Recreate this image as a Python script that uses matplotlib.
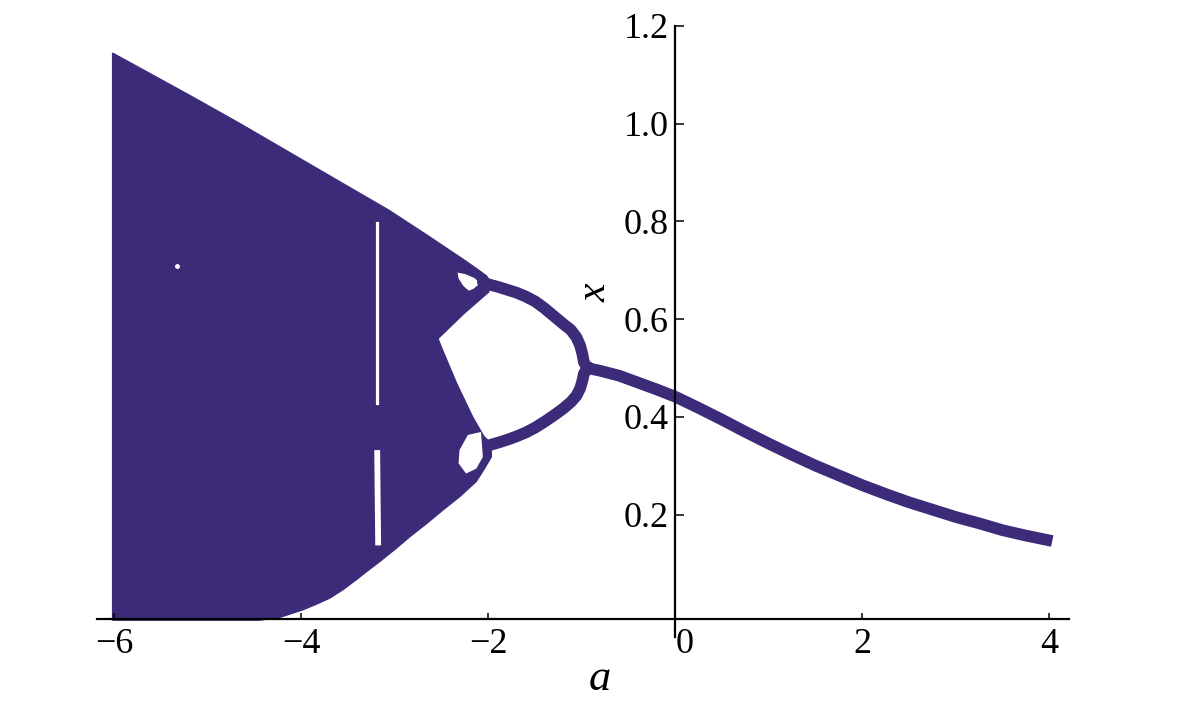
import matplotlib
matplotlib.use('Agg')
from matplotlib import pyplot as plt

purple = '#3c2b79'

# chaotic band, outer boundary (a, x)
upper_env_a = [-6.02, -5.60, -5.20, -4.66, -4.13, -3.60, -3.06, -2.66, -2.27, -2.12, -2.02]
upper_env_x = [1.144, 1.100, 1.058, 1.000, 0.941, 0.882, 0.822, 0.772, 0.722, 0.702, 0.688]
inner_a = [-1.97, -2.00, -2.27, -2.54, -2.49, -2.34, -2.17, -2.05, -1.97]
inner_x = [0.672, 0.655, 0.610, 0.560, 0.536, 0.468, 0.400, 0.360, 0.345]
lower_env_a = [-1.97, -2.05, -2.13, -2.30, -2.49, -2.66, -2.84, -3.00, -3.17, -3.30, -3.42,
               -3.56, -3.70, -3.85, -3.99, -4.23, -4.45, -6.02]
lower_env_x = [0.318, 0.292, 0.268, 0.238, 0.209, 0.182, 0.155, 0.129, 0.103, 0.084, 0.066,
               0.046, 0.029, 0.016, 0.005, -0.010, -0.016, -0.016]

# white holes (period-4 bubbles)
upper_hole_a = [-2.33, -2.25, -2.15, -2.09, -2.16, -2.21, -2.27, -2.32]
upper_hole_x = [0.695, 0.692, 0.684, 0.673, 0.662, 0.658, 0.668, 0.683]
lower_hole_a = [-2.08, -2.06, -2.13, -2.24, -2.32, -2.31, -2.22]
lower_hole_x = [0.369, 0.318, 0.294, 0.284, 0.305, 0.332, 0.363]

# period-3 window gaps
gap_a = -3.19
gap_upper = [0.797, 0.428]
gap_lower = [0.326, 0.143]
dot_a, dot_x = -5.33, 0.708

# period-2 branches and the single fixed point
upper_branch_a = [-2.06, -2.0, -1.9, -1.8, -1.7, -1.6, -1.5, -1.4, -1.3, -1.2, -1.12,
                  -1.06, -1.02, -0.995, -0.98, -0.95, -0.92]
upper_branch_x = [0.676, 0.671, 0.666, 0.660, 0.654, 0.646, 0.636, 0.622, 0.606, 0.590, 0.578,
                  0.563, 0.546, 0.528, 0.512, 0.502, 0.500]
lower_branch_a = [-1.99, -1.9, -1.8, -1.7, -1.6, -1.5, -1.4, -1.3, -1.2, -1.12,
                  -1.06, -1.02, -0.995, -0.98, -0.95, -0.92]
lower_branch_x = [0.342, 0.347, 0.353, 0.360, 0.368, 0.378, 0.390, 0.403, 0.417, 0.430,
                  0.443, 0.458, 0.474, 0.488, 0.498, 0.500]
tail_a = [-0.95, -0.8, -0.6, -0.4, -0.2, 0.0, 0.25, 0.5, 0.75, 1.0, 1.25, 1.5, 1.75,
          2.0, 2.25, 2.5, 2.75, 3.0, 3.25, 3.5, 3.75, 4.03]
tail_x = [0.500, 0.494, 0.484, 0.470, 0.456, 0.441, 0.418, 0.394, 0.369, 0.345, 0.322, 0.300, 0.280,
          0.260, 0.242, 0.225, 0.210, 0.195, 0.182, 0.168, 0.157, 0.146]

xticks = [-6, -4, -2, 0, 2, 4]
yticks = [0.2, 0.4, 0.6, 0.8, 1.0, 1.2]

plt.rcParams['font.family'] = ['Liberation Serif', 'DejaVu Serif']

fig = plt.figure(figsize=(12, 7.09), dpi=100)
ax = fig.add_axes([0.0806, 0.1018, 0.8103, 0.8619])

poly_a = upper_env_a + inner_a + lower_env_a
poly_x = upper_env_x + inner_x + lower_env_x
ax.fill(poly_a, poly_x, color=purple, lw=1.0, zorder=1)
ax.fill(upper_hole_a, upper_hole_x, color='white', lw=0, zorder=1.2)
ax.fill(lower_hole_a, lower_hole_x, color='white', lw=0, zorder=1.2)
ax.plot([gap_a, gap_a], gap_upper, color='white', lw=2.3, zorder=1.3)
ax.plot([gap_a, gap_a + 0.01], gap_lower, color='white', lw=4.2, zorder=1.3)
ax.plot(dot_a, dot_x, 'o', color='white', ms=2.5, zorder=1.3)

lw = 8.4
ax.plot(upper_branch_a, upper_branch_x, color=purple, lw=lw, solid_capstyle='round',
        solid_joinstyle='round', zorder=2)
ax.plot(lower_branch_a, lower_branch_x, color=purple, lw=lw, solid_capstyle='round',
        solid_joinstyle='round', zorder=2)
ax.plot(tail_a, tail_x, color=purple, lw=lw, solid_capstyle='butt', solid_joinstyle='round', zorder=2)

ax.set_xlim(-6.19, 4.21)
ax.set_ylim(-0.05, 1.2)
ax.spines['left'].set_position(('data', 0))
ax.spines['bottom'].set_position(('data', -0.013))
ax.spines['top'].set_visible(False)
ax.spines['right'].set_visible(False)
for s in ['left', 'bottom']:
    ax.spines[s].set_linewidth(1.6)
    ax.spines[s].set_zorder(3)

ax.set_xticks(xticks)
ax.set_xticklabels(['\u2212%d' % -t if t < 0 else '%d' % t for t in xticks])
ax.set_yticks(yticks)
ax.set_yticklabels(['%.1f' % t for t in yticks])
ax.tick_params(axis='x', direction='in', length=4.5, width=1.1, pad=7, labelsize=26)
ax.tick_params(axis='y', direction='in', length=6.5, width=1.1, pad=5, labelsize=26)
for lab in ax.get_xticklabels():
    if lab.get_text() == '0':
        lab.set_horizontalalignment('left')

fig.text(600 / 1200, 1 - 679 / 709, 'a', style='italic', fontsize=32, ha='center', va='center')
fig.text(595 / 1200, 1 - 293 / 709, 'x', style='italic', fontsize=30, ha='center', va='center', rotation=90)

fig.savefig('out.png', dpi=100, facecolor='white')
